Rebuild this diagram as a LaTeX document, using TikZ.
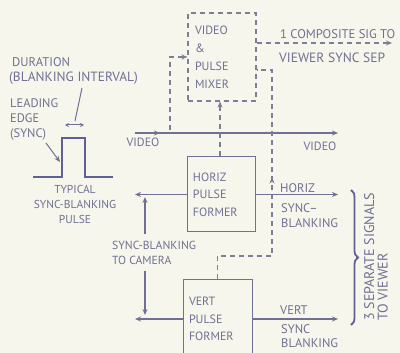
\documentclass[tikz,border=0pt]{standalone}
\usepackage{fontspec}
\setmainfont{PT Sans}
\usetikzlibrary{arrows.meta,decorations.pathreplacing,decorations.markings}
\definecolor{bgc}{HTML}{F6F6EC}
\definecolor{ink}{HTML}{707094}
\definecolor{inkd}{HTML}{606092}
\definecolor{dashc}{HTML}{7E7E98}
\tikzset{
  lbl/.style={text=ink, font=\fontsize{12.5}{15}\selectfont, inner sep=0pt, align=left},
  boxtxt/.style={draw=ink, line width=1pt, text=ink, font=\fontsize{12}{17.5}\selectfont, align=left, inner xsep=6pt, anchor=center},
  conn/.style={draw=ink, line width=1.1pt, -{Stealth[length=6pt,width=5pt]}},
  dsh/.style={draw=dashc, line width=1.1pt, dash pattern=on 5pt off 4pt},
  dconn/.style={dsh, -{Stealth[length=6pt,width=5pt]}},
  pulseline/.style={draw=inkd, line width=2.6pt},
}
\begin{document}
\begin{tikzpicture}[x=1pt,y=-1pt]
\fill[bgc] (0,0) rectangle (400,353);
\useasboundingbox (0,0) rectangle (400,353);

% boxes
\node[boxtxt, dsh, text=ink, minimum width=68pt, minimum height=88pt, text width=54pt, font=\fontsize{12}{18}\selectfont] (mix) at (222,57) {VIDEO\\\&\\PULSE\\MIXER};
\node[boxtxt, minimum width=68pt, minimum height=75pt, text width=56pt] (horiz) at (221,194.5) {HORIZ\\PULSE\\FORMER};
\node[boxtxt, minimum width=69pt, minimum height=78pt, text width=57pt] (vert) at (217.5,319) {VERT\\PULSE\\FORMER};

% coordinates
\coordinate (comp) at (392,43);
\coordinate (vin) at (135,133);
\coordinate (vout) at (338,133);
\coordinate (vtap) at (170,130);
\coordinate (ho) at (338,196);
\coordinate (vo) at (338,319);
\coordinate (hcam) at (135,194.5);
\coordinate (vcam) at (135,319);
\coordinate (c1) at (272,256);
\coordinate (c2) at (272,70);

% composite out
\draw[dconn] (mix.east |- comp) -- (comp);
\node[lbl, anchor=west, font=\fontsize{12.6}{15}\selectfont] (t1) at (280,34) {1 COMPOSITE SIG TO};
\node[lbl, anchor=west, font=\fontsize{13.5}{15}\selectfont] (t2) at (279,58) {VIEWER SYNC SEP};

% video line
\draw[conn] (vin) -- (vout);
\draw[conn] (vin) -- ++(25,0);
\node[lbl, font=\fontsize{12}{15}\selectfont] (vl1) at (143,142) {VIDEO};
\node[lbl, font=\fontsize{12}{15}\selectfont] (vl2) at (320,146) {VIDEO};
\draw[dconn] (vtap) |- (mix.west);

% horiz to mixer
\draw[dconn] (horiz.north -| 220,0) -- (mix.south -| 220,0);
% vert to mixer
\draw[dsh, postaction={decorate}, decoration={markings, mark=at position 0.56 with {\arrow{Stealth[length=6pt,width=5pt]}}}]
  (vert.north) |- (c1) -- (c2) -- (c2 -| mix.east);

% outputs
\draw[conn] (horiz.east) -- (horiz.east -| ho);
\draw[conn] (vert.east) -- (vert.east -| vo);
\node[lbl, anchor=west] (hl) at (280,188) {HORIZ};
\node[lbl, anchor=north west] (hl2) at (281,203) {SYNC–\\BLANKING};
\node[lbl, anchor=west] (vl) at (280,310) {VERT};
\node[lbl, anchor=north west, font=\fontsize{12.5}{14}\selectfont] (vl2b) at (281,324) {SYNC\\BLANKING};

% brace
\draw[inkd, line width=1.8pt, decorate, decoration={brace, amplitude=7pt}] (351,190) -- (351,325);
\node[lbl, rotate=90, anchor=west, font=\fontsize{14}{13.5}\selectfont] (sep) at (376,321) {3 SEPARATE SIGNALS\\TO VIEWER};

% camera
\draw[conn] (horiz.west) -- (hcam);
\draw[conn] (vert.west) -- (vcam);
\node[lbl, anchor=north west, font=\fontsize{11.7}{14.5}\selectfont] (cam) at (112,241) {SYNC-BLANKING\\TO CAMERA};
\draw[conn] (145,234) -- (145,197);
\draw[conn] (145,271) -- (145,315);

% pulse
\draw[pulseline] (33,177) -- (62,177) -- (62,138) -- (85,138) -- (85,177) -- (113,177);
\draw[draw=ink, line width=1pt, {Stealth[length=4pt,width=4pt]}-{Stealth[length=4pt,width=4pt]}] (65,125) -- (84,125);
\draw[draw=ink, line width=1pt] (82,88) -- (75,121);
\draw[conn, line width=1pt] (46,143) -- (60,162);
\node[lbl, anchor=west, font=\fontsize{12.6}{15}\selectfont] (d1) at (12,62) {DURATION};
\node[lbl, anchor=west, font=\fontsize{13.4}{15}\selectfont] (d2) at (9,78) {(BLANKING INTERVAL)};
\node[lbl, anchor=north west, font=\fontsize{12.4}{15}\selectfont] (le) at (10,98) {LEADING\\EDGE\\(SYNC)};
\node[lbl, align=center, anchor=north, font=\fontsize{11.5}{15}\selectfont] (typ) at (75,185) {TYPICAL\\SYNC-BLANKING\\PULSE};
\end{tikzpicture}
\end{document}
